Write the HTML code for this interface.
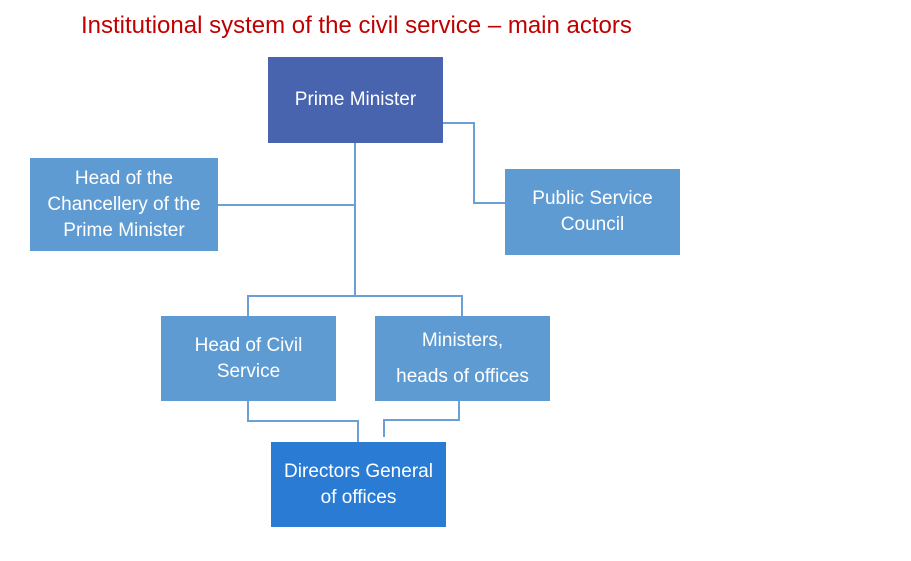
<!DOCTYPE html>
<html><head><style>
body{margin:0;width:911px;height:561px;background:#fff;position:relative;overflow:hidden;font-family:"Liberation Sans",sans-serif}
.b{position:absolute;display:flex;align-items:center;justify-content:center;text-align:center;color:#fff;font-size:19px;line-height:26px}
.t{position:absolute;left:81px;top:12px;color:#c00000;font-size:24px}
</style></head><body>
<div class="t">Institutional system of the civil service – main actors</div>
<svg width="911" height="561" style="position:absolute;left:0;top:0" fill="none" stroke="#6a9fd8" stroke-width="2">
<polyline points="355,143 355,296"/>
<polyline points="218,205 355,205"/>
<polyline points="443,123 474,123 474,203 505,203"/>
<polyline points="248,316 248,296 462,296 462,316"/>
<polyline points="248,401 248,421 358,421 358,442"/>
<polyline points="459,401 459,420 384,420 384,437"/>
</svg>
<div class="b" style="left:268px;top:57px;width:175px;height:86px;background:#4864ae">Prime Minister</div>
<div class="b" style="left:30px;top:158px;width:188px;height:93px;background:#5f9bd3">Head of the<br>Chancellery of the<br>Prime Minister</div>
<div class="b" style="left:505px;top:169px;width:175px;height:86px;background:#5f9bd3">Public Service<br>Council</div>
<div class="b" style="left:161px;top:316px;width:175px;height:85px;background:#5f9bd3">Head of Civil<br>Service</div>
<div class="b" style="left:375px;top:316px;width:175px;height:85px;background:#5f9bd3;line-height:36px">Ministers,<br>heads of offices</div>
<div class="b" style="left:271px;top:442px;width:175px;height:85px;background:#2a7bd4">Directors General<br>of offices</div>
</body></html>
